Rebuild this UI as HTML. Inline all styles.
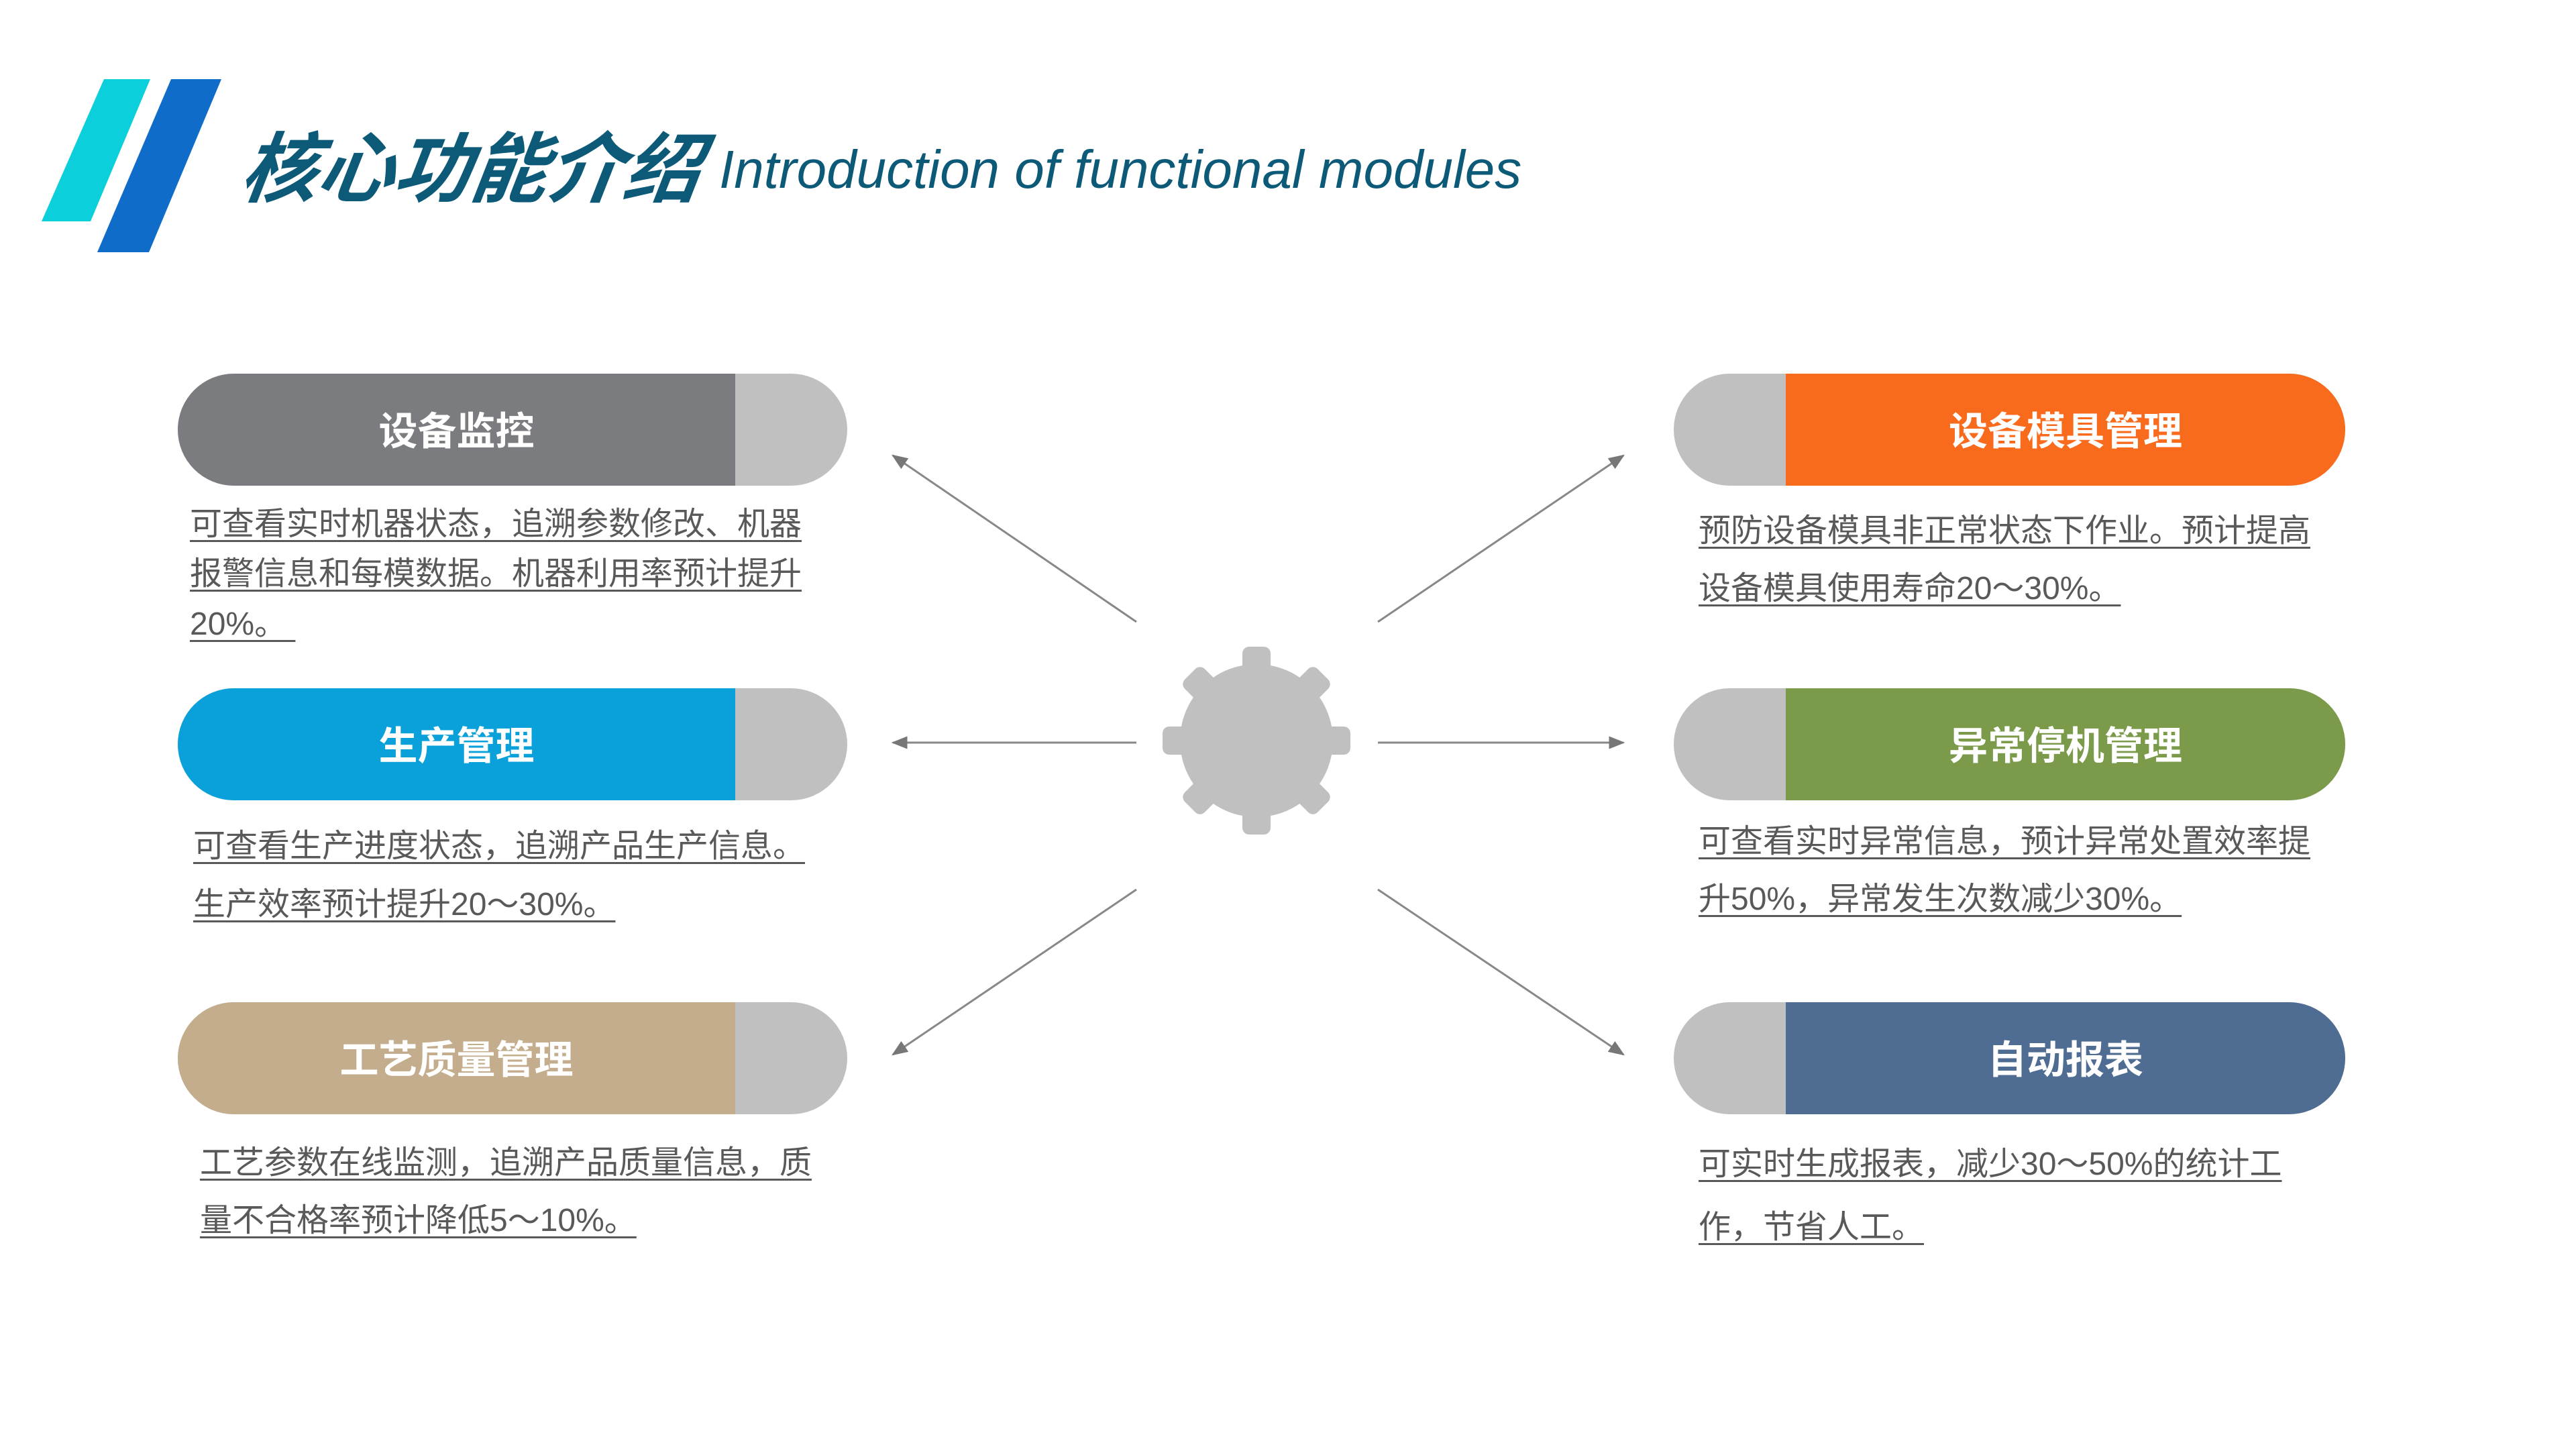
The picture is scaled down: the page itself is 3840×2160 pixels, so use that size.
<!DOCTYPE html>
<html><head><meta charset="utf-8"><style>
body{margin:0;width:3840px;height:2160px;background:#fff;position:relative;overflow:hidden;font-family:"Liberation Sans","Noto Sans CJK SC",sans-serif}
.pill{position:absolute;height:167px;border-radius:84px;overflow:hidden;background:#c0c0c0}
.pill .c{position:absolute;top:0;height:100%;display:flex;align-items:center;justify-content:center;color:#fff;font-weight:bold;font-size:58px;padding-bottom:6px;box-sizing:border-box}
.t{position:absolute;font-size:48px;color:#595959;white-space:nowrap;line-height:60px;text-decoration:underline;text-decoration-thickness:3px;text-underline-offset:8px}
</style></head><body>
<svg width="3840" height="2160" style="position:absolute;left:0;top:0">
<polygon points="155,118 224,118 135,330 62,330" fill="#0bcfdb"/>
<polygon points="255,118 330,118 222,376 145,376" fill="#0f6cc9"/>
<defs>
<marker id="m" viewBox="0 0 10 10" markerWidth="24" markerHeight="24" refX="9" refY="5" orient="auto" markerUnits="userSpaceOnUse"><path d="M0,1 L10,5 L0,9 z" fill="#777"/></marker></defs>
<g stroke="#888" stroke-width="3" marker-end="url(#m)">
<line x1="1694" y1="927" x2="1331" y2="679"/>
<line x1="1694" y1="1107" x2="1331" y2="1107"/>
<line x1="1694" y1="1326" x2="1331" y2="1572"/>
<line x1="2054" y1="927" x2="2420" y2="679"/>
<line x1="2054" y1="1107" x2="2420" y2="1107"/>
<line x1="2054" y1="1326" x2="2420" y2="1572"/>
</g>
<g fill="#c0c0c0" transform="translate(1873,1104)">
<circle r="114"/>
<g id="tt"><rect x="-21" y="-140" width="42" height="70" rx="10"/><rect x="-21" y="70" width="42" height="70" rx="10"/></g>
<use href="#tt" transform="rotate(45)"/><use href="#tt" transform="rotate(90)"/><use href="#tt" transform="rotate(135)"/>
</g>
</svg>
<div style="position:absolute;left:362px;top:178px;font-size:114px;font-weight:bold;font-style:italic;color:#0d5a78;font-family:'Noto Sans CJK SC',sans-serif;line-height:130px;transform:skewX(-8deg)">核心功能介绍</div>
<div style="position:absolute;left:1072px;top:208px;font-size:80px;font-style:italic;color:#0d5a78;line-height:90px">Introduction of functional modules</div>

<div class="pill" style="left:265px;top:557px;width:998px"><div class="c" style="left:0;width:831px;background:#7b7c80">设备监控</div></div>
<div class="pill" style="left:265px;top:1026px;width:998px"><div class="c" style="left:0;width:831px;background:#0aa1db">生产管理</div></div>
<div class="pill" style="left:265px;top:1494px;width:998px"><div class="c" style="left:0;width:831px;background:#c4ad8c">工艺质量管理</div></div>
<div class="pill" style="left:2495px;top:557px;width:1001px"><div class="c" style="left:167px;right:0;background:#f86b1d">设备模具管理</div></div>
<div class="pill" style="left:2495px;top:1026px;width:1001px"><div class="c" style="left:167px;right:0;background:#7b9a4a">异常停机管理</div></div>
<div class="pill" style="left:2495px;top:1494px;width:1001px"><div class="c" style="left:167px;right:0;background:#4f6d93">自动报表</div></div>

<div class="t" style="left:283px;top:752px">可查看实时机器状态，追溯参数修改、机器</div>
<div class="t" style="left:283px;top:826px">报警信息和每模数据。机器利用率预计提升</div>
<div class="t" style="left:283px;top:901px">20%。&nbsp;</div>
<div class="t" style="left:288px;top:1232px">可查看生产进度状态，追溯产品生产信息。</div>
<div class="t" style="left:288px;top:1319px">生产效率预计提升20～30%。</div>
<div class="t" style="left:298px;top:1704px">工艺参数在线监测，追溯产品质量信息，质</div>
<div class="t" style="left:298px;top:1790px">量不合格率预计降低5～10%。</div>
<div class="t" style="left:2532px;top:762px">预防设备模具非正常状态下作业。预计提高</div>
<div class="t" style="left:2532px;top:848px">设备模具使用寿命20～30%。</div>
<div class="t" style="left:2532px;top:1225px">可查看实时异常信息，预计异常处置效率提</div>
<div class="t" style="left:2532px;top:1311px">升50%，异常发生次数减少30%。</div>
<div class="t" style="left:2532px;top:1706px">可实时生成报表，减少30～50%的统计工</div>
<div class="t" style="left:2532px;top:1800px">作，节省人工。</div>
</body></html>
